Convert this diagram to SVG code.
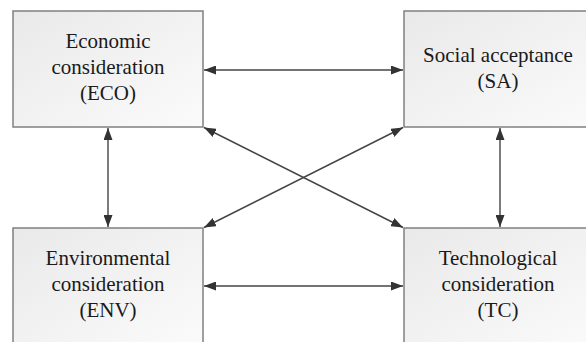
<svg xmlns="http://www.w3.org/2000/svg" width="586" height="342" viewBox="0 0 586 342">
<defs>
<linearGradient id="g" x1="0" y1="0" x2="1" y2="1">
<stop offset="0" stop-color="#e9e9e9"/>
<stop offset="1" stop-color="#fbfbfb"/>
</linearGradient>
<marker id="a" viewBox="0 0 12 9" refX="12" refY="4.5" markerWidth="12" markerHeight="9" markerUnits="userSpaceOnUse" orient="auto-start-reverse">
<path d="M0,0 L12,4.5 L0,9 Z" fill="#333"/>
</marker>
<style>
.box{fill:url(#g);stroke:#808080;stroke-width:1.5}
.t{font-family:'Liberation Serif','DejaVu Serif',serif;font-size:21px;fill:#1a1a1a;text-anchor:middle}
.c{stroke:#444;stroke-width:1.4;fill:none;marker-start:url(#a);marker-end:url(#a)}
</style>
</defs>
<rect width="586" height="342" fill="#fff"/>
<g id="ECO">
<rect class="box" x="13" y="11" width="190" height="116"/>
<text class="t" x="108" y="48">Economic</text>
<text class="t" x="108" y="74">consideration</text>
<text class="t" x="108" y="100">(ECO)</text>
</g>
<g id="SA">
<rect class="box" x="404" y="11" width="200" height="116"/>
<text class="t" x="498" y="62">Social acceptance</text>
<text class="t" x="498" y="88">(SA)</text>
</g>
<g id="ENV">
<rect class="box" x="13" y="228" width="190" height="120"/>
<text class="t" x="108" y="265">Environmental</text>
<text class="t" x="108" y="291">consideration</text>
<text class="t" x="108" y="317">(ENV)</text>
</g>
<g id="TC">
<rect class="box" x="404" y="228" width="200" height="120"/>
<text class="t" x="498" y="265">Technological</text>
<text class="t" x="498" y="291">consideration</text>
<text class="t" x="498" y="317">(TC)</text>
</g>
<g id="connectors">
<line class="c" x1="204" y1="70" x2="403" y2="70"/>
<line class="c" x1="204" y1="286" x2="403" y2="286"/>
<line class="c" x1="108" y1="128" x2="108" y2="227"/>
<line class="c" x1="500" y1="128" x2="500" y2="227"/>
<line class="c" x1="204" y1="127.5" x2="403" y2="227.5"/>
<line class="c" x1="403" y1="127.5" x2="204" y2="227.5"/>
</g>
</svg>
